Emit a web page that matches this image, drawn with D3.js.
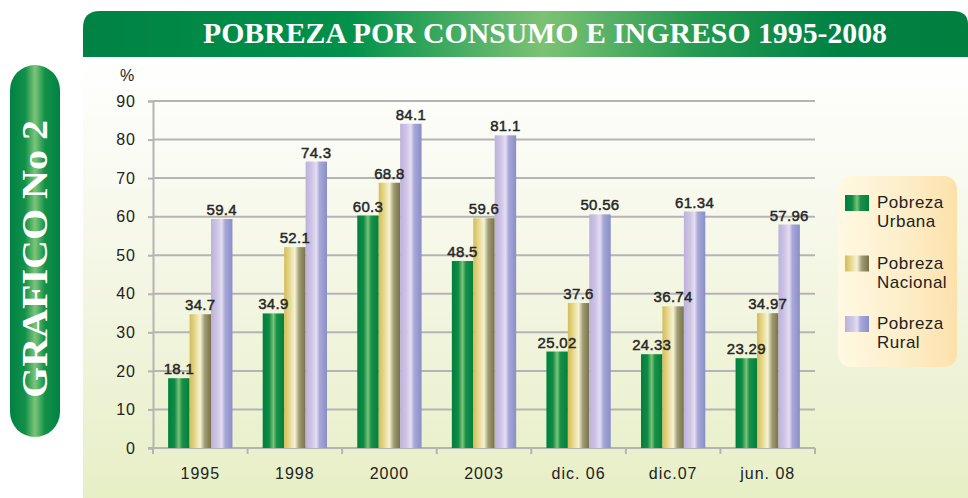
<!DOCTYPE html>
<html>
<head>
<meta charset="utf-8">
<script src="https://cdn.jsdelivr.net/npm/d3@7"></script>
<style>
  body { margin: 0; background: #ffffff; }
  svg { display: block; }
</style>
</head>
<body>
<svg id="chart" width="968" height="498"></svg>
<script>
'use strict';

var categorias = ['1995', '1998', '2000', '2003', 'dic. 06', 'dic.07', 'jun. 08'];
var series = ['Urbana', 'Nacional', 'Rural'];

// bar heights as drawn in the picture
var urbana = [18.1, 34.9, 60.3, 48.5, 25.02, 24.33, 23.29];
var nacional = [34.7, 52.1, 68.8, 59.6, 37.6, 36.74, 34.97];
var rural = [59.4, 74.3, 84.1, 81.1, 60.6, 61.34, 57.96];

// printed labels
var etiquetasUrbana = ['18.1', '34.9', '60.3', '48.5', '25.02', '24.33', '23.29'];
var etiquetasNacional = ['34.7', '52.1', '68.8', '59.6', '37.6', '36.74', '34.97'];
var etiquetasRural = ['59.4', '74.3', '84.1', '81.1', '50.56', '61.34', '57.96'];

var yTicks = [0, 10, 20, 30, 40, 50, 60, 70, 80, 90];

var sans = 'Liberation Sans, Arial, sans-serif';
var serif = 'Liberation Serif, DejaVu Serif, serif';

var svg = d3.select('#chart');
var defs = svg.append('defs');

function hGradient(id, stops) {
    var g = defs.append('linearGradient').attr('id', id)
        .attr('x1', '0%').attr('x2', '100%').attr('y1', '0%').attr('y2', '0%');
    stops.forEach(function (s) {
        g.append('stop').attr('offset', s[0]).attr('stop-color', s[1]);
    });
}

hGradient('gUrbana', [['0%', '#00803e'], ['30%', '#0f8b45'], ['50%', '#7cc47a'], ['65%', '#1a9048'], ['100%', '#00803e']]);
hGradient('gNacional', [['0%', '#d4bd55'], ['25%', '#e6d88e'], ['50%', '#f6f3d4'], ['70%', '#a09c74'], ['100%', '#777247']]);
hGradient('gRural', [['0%', '#bdb1da'], ['30%', '#cfc6e6'], ['50%', '#e4def2'], ['65%', '#a8a9d8'], ['100%', '#8a8ec8']]);
hGradient('gTitle', [['0%', '#008244'], ['30%', '#00914a'], ['52%', '#7cc274'], ['70%', '#22994f'], ['85%', '#008244'], ['100%', '#00803f']]);
hGradient('gPill', [['0%', '#008244'], ['30%', '#119048'], ['50%', '#7dc57a'], ['70%', '#119048'], ['100%', '#008244']]);
hGradient('gLegend', [['0%', '#fff9e4'], ['60%', '#fdedc6'], ['100%', '#fde1aa']]);

var bg = defs.append('linearGradient').attr('id', 'gPanel')
    .attr('x1', '0%').attr('x2', '0%').attr('y1', '0%').attr('y2', '100%');
bg.append('stop').attr('offset', '0%').attr('stop-color', '#ffffff');
bg.append('stop').attr('offset', '50%').attr('stop-color', '#f4f6e4');
bg.append('stop').attr('offset', '100%').attr('stop-color', '#e7efc6');

// panel
svg.append('path')
    .attr('d', 'M83,57 H968 V498 H83 Z')
    .attr('fill', 'url(#gPanel)');

// title banner
svg.append('path')
    .attr('d', 'M83,57 V28 Q83,11 100,11 H952 Q968,11 968,24 V57 Z')
    .attr('fill', 'url(#gTitle)');
svg.append('text')
    .attr('x', 545).attr('y', 43)
    .attr('text-anchor', 'middle')
    .attr('font-family', serif)
    .attr('font-weight', 'bold')
    .attr('font-size', 30)
    .attr('textLength', 684)
    .attr('lengthAdjust', 'spacingAndGlyphs')
    .attr('fill', '#ffffff')
    .text('POBREZA POR CONSUMO E INGRESO 1995-2008');

// left pill
svg.append('rect')
    .attr('x', 10).attr('y', 65).attr('width', 50).attr('height', 372)
    .attr('rx', 25).attr('ry', 25)
    .attr('fill', 'url(#gPill)');
svg.append('text')
    .attr('transform', 'translate(47,259) rotate(-90)')
    .attr('text-anchor', 'middle')
    .attr('font-family', serif)
    .attr('font-weight', 'bold')
    .attr('font-size', 36)
    .attr('textLength', 278)
    .attr('lengthAdjust', 'spacingAndGlyphs')
    .attr('fill', '#ffffff')
    .text('GRAFICO No 2');

var margin = {left: 153, right: 815, top: 101, bottom: 448};

var x0 = d3.scaleBand()
    .domain(categorias)
    .range([margin.left, margin.right])
    .paddingInner(0.32)
    .paddingOuter(0.16);

var x1 = d3.scaleBand()
    .domain(series)
    .range([0, x0.bandwidth()]);

var y = d3.scaleLinear()
    .domain([0, 90])
    .range([margin.bottom, margin.top]);

// gridlines
svg.append('g')
    .selectAll('line')
    .data(yTicks.filter(function (d) { return d > 0; }))
    .join('line')
    .attr('x1', margin.left).attr('x2', margin.right)
    .attr('y1', function (d) { return y(d); })
    .attr('y2', function (d) { return y(d); })
    .attr('stroke', '#b4b4b4')
    .attr('stroke-width', 2);

// y axis
var yAxis = d3.axisLeft(y).tickValues(yTicks).tickSize(5).tickPadding(12);
var gy = svg.append('g')
    .attr('transform', 'translate(' + margin.left + ',0)')
    .call(yAxis);
gy.select('.domain').attr('stroke', '#b4b4b4').attr('stroke-width', 2);
gy.selectAll('.tick line').attr('stroke', '#b4b4b4').attr('stroke-width', 2);
gy.selectAll('.tick text')
    .attr('font-family', sans)
    .attr('font-size', 16)
    .attr('letter-spacing', 1)
    .attr('fill', '#222');

svg.append('text')
    .attr('x', 127).attr('y', 81)
    .attr('text-anchor', 'middle')
    .attr('font-family', sans)
    .attr('font-size', 16)
    .attr('fill', '#222')
    .text('%');

// x axis
var gx = svg.append('g')
    .attr('transform', 'translate(0,' + margin.bottom + ')');
gx.append('line')
    .attr('x1', margin.left - 5).attr('x2', margin.right)
    .attr('stroke', '#b4b4b4').attr('stroke-width', 2);
var step = x0.step();
var bounds = categorias.map(function (c) { return x0(c) - x0.paddingInner() * step / 2; });
bounds.push(margin.right);
bounds[0] = margin.left;
gx.selectAll('line.tick')
    .data(bounds)
    .join('line')
    .attr('class', 'tick')
    .attr('x1', function (d) { return d; })
    .attr('x2', function (d) { return d; })
    .attr('y1', 0).attr('y2', 6)
    .attr('stroke', '#b4b4b4').attr('stroke-width', 2);
gx.selectAll('text')
    .data(categorias)
    .join('text')
    .attr('x', function (d) { return x0(d) + x0.bandwidth() / 2; })
    .attr('y', 31)
    .attr('text-anchor', 'middle')
    .attr('font-family', sans)
    .attr('font-size', 16)
    .attr('letter-spacing', 1)
    .attr('fill', '#222')
    .text(function (d) { return d; });

// bars
var valores = {Urbana: urbana, Nacional: nacional, Rural: rural};
var etiquetas = {Urbana: etiquetasUrbana, Nacional: etiquetasNacional, Rural: etiquetasRural};

var rows = [];
series.forEach(function (s) {
    categorias.forEach(function (c, i) {
        rows.push({serie: s, cat: c, value: valores[s][i], label: etiquetas[s][i]});
    });
});

svg.append('g')
    .selectAll('rect')
    .data(rows)
    .join('rect')
    .attr('x', function (d) { return x0(d.cat) + x1(d.serie); })
    .attr('y', function (d) { return y(d.value); })
    .attr('width', x1.bandwidth())
    .attr('height', function (d) { return y(0) - y(d.value); })
    .attr('fill', function (d) { return 'url(#g' + d.serie + ')'; });

svg.append('g')
    .selectAll('text')
    .data(rows)
    .join('text')
    .attr('x', function (d) { return x0(d.cat) + x1(d.serie) + x1.bandwidth() / 2; })
    .attr('y', function (d) { return y(d.value) - 4; })
    .attr('text-anchor', 'middle')
    .attr('font-family', sans)
    .attr('font-size', 15)
    .attr('letter-spacing', 0.3)
    .attr('fill', '#262626')
    .attr('stroke', '#262626')
    .attr('stroke-width', 0.45)
    .text(function (d) { return d.label; });

// legend
var legend = svg.append('g');
legend.append('rect')
    .attr('x', 838).attr('y', 176).attr('width', 119).attr('height', 191)
    .attr('rx', 13).attr('ry', 13)
    .attr('fill', 'url(#gLegend)');

var item = legend.selectAll('g.item')
    .data(series)
    .join('g')
    .attr('class', 'item')
    .attr('transform', function (d, i) { return 'translate(845,' + (195 + i * 60.5) + ')'; });
item.append('rect')
    .attr('width', 24).attr('height', 16)
    .attr('fill', function (d) { return 'url(#g' + d + ')'; });
item.append('text')
    .attr('x', 32).attr('y', 13)
    .attr('font-family', sans)
    .attr('font-size', 17)
    .attr('letter-spacing', 0.5)
    .attr('fill', '#222')
    .text('Pobreza');
item.append('text')
    .attr('x', 32).attr('y', 32)
    .attr('font-family', sans)
    .attr('font-size', 17)
    .attr('letter-spacing', 0.5)
    .attr('fill', '#222')
    .text(function (d) { return d; });
</script>
</body>
</html>
